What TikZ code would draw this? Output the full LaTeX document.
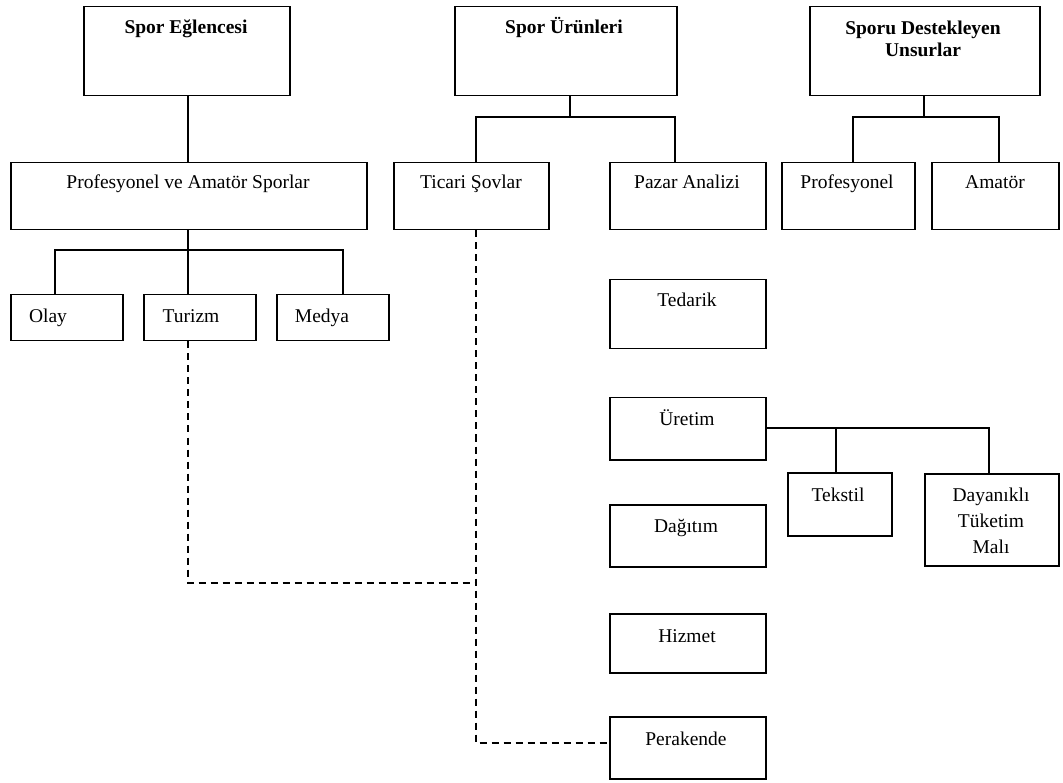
\documentclass[tikz,border=0pt]{standalone}
\usepackage{fontspec}
\setmainfont{Liberation Serif}
\begin{document}
\begin{tikzpicture}[x=1pt,y=-1pt,
  box/.style={draw, line width=1.5pt, inner sep=0pt, anchor=north west},
  lbl/.style={anchor=base, inner sep=0pt, font=\fontsize{19.5}{22}\selectfont},
  blbl/.style={anchor=base, inner sep=0pt, font=\fontsize{19.5}{22}\selectfont\bfseries, align=center},
  conn/.style={line width=1.5pt},
  dconn/.style={line width=1.5pt, dash pattern=on 7pt off 5pt}]
\useasboundingbox (0,0) rectangle (1063,783);
% boxes
\node[box, minimum width=206pt, minimum height=89pt] (se) at (83,6) {};
\node[box, minimum width=222pt, minimum height=89pt] (su) at (454,6) {};
\node[box, minimum width=230pt, minimum height=89pt] (sd) at (809,6) {};
\node[box, minimum width=356pt, minimum height=67pt] (pas) at (10,162) {};
\node[box, minimum width=155pt, minimum height=67pt] (ts) at (393,162) {};
\node[box, minimum width=156pt, minimum height=67pt] (pa) at (609,162) {};
\node[box, minimum width=133pt, minimum height=67pt] (pr) at (781,162) {};
\node[box, minimum width=127pt, minimum height=67pt] (am) at (931,162) {};
\node[box, minimum width=112pt, minimum height=46pt] (ol) at (10,294) {};
\node[box, minimum width=112pt, minimum height=46pt] (tu) at (143,294) {};
\node[box, minimum width=112pt, minimum height=46pt] (me) at (276,294) {};
\node[box, minimum width=156pt, minimum height=69pt] (te) at (609,279) {};
\node[box, minimum width=156pt, minimum height=62pt] (ur) at (609,397) {};
\node[box, minimum width=104pt, minimum height=63pt] (tk) at (787,472) {};
\node[box, minimum width=134pt, minimum height=92pt] (dy) at (924,473) {};
\node[box, minimum width=156pt, minimum height=62pt] (da) at (609,504) {};
\node[box, minimum width=156pt, minimum height=59pt] (hi) at (609,613) {};
\node[box, minimum width=156pt, minimum height=62pt] (pe) at (609,716) {};
% labels
\node[blbl] (seT) at (186,34) {Spor Eğlencesi};
\node[blbl] (suT) at (564,34) {Spor Ürünleri};
\node[blbl] (sdT1) at (923,35) {Sporu Destekleyen};
\node[blbl] (sdT2) at (923,57) {Unsurlar};
\node[lbl] (pasT) at (188,189) {Profesyonel ve Amatör Sporlar};
\node[lbl] (tsT) at (471,189) {Ticari Şovlar};
\node[lbl] (paT) at (687,189) {Pazar Analizi};
\node[lbl] (prT) at (847,189) {Profesyonel};
\node[lbl] (amT) at (995,189) {Amatör};
\node[lbl] (olT) at (48,323) {Olay};
\node[lbl] (tuT) at (191,323) {Turizm};
\node[lbl] (meT) at (322,323) {Medya};
\node[lbl] (teT) at (687,307) {Tedarik};
\node[lbl] (urT) at (687,425) {Üretim};
\node[lbl] (tkT) at (838,501) {Tekstil};
\node[lbl] (dyT1) at (991,501) {Dayanıklı};
\node[lbl] (dyT2) at (991,527) {Tüketim};
\node[lbl] (dyT3) at (991,553) {Malı};
\node[lbl] (daT) at (686,532) {Dağıtım};
\node[lbl] (hiT) at (687,642) {Hizmet};
\node[lbl] (peT) at (686,745) {Perakende};
% junction coordinates
\coordinate (jSE) at (188,120);
\coordinate (jSU) at (570,117);
\coordinate (jL) at (476,117);
\coordinate (jR) at (675,117);
\coordinate (jSD) at (924,117);
\coordinate (jDL) at (853,117);
\coordinate (jDR) at (999,117);
\coordinate (jP) at (188,250);
\coordinate (jO) at (55,250);
\coordinate (jM) at (343,250);
\coordinate (jU1) at (836,428);
\coordinate (jU2) at (989,428);
\coordinate (jT) at (188,583);
\coordinate (jX) at (476,583);
\coordinate (jY) at (476,743);
% connectors
\draw[conn] (se.south -| jSE) -- (pas.north -| jSE);
\draw[conn] (su.south -| jSU) -- (jSU);
\draw[conn] (ts.north -| jL) -- (jL) -- (jR) -- (pa.north -| jR);
\draw[conn] (sd.south -| jSD) -- (jSD);
\draw[conn] (pr.north -| jDL) -- (jDL) -- (jDR) -- (am.north -| jDR);
\draw[conn] (pas.south -| jP) -- (jP);
\draw[conn] (ol.north -| jO) -- (jO) -- (jM) -- (me.north -| jM);
\draw[conn] (jP) -- (tu.north -| jP);
\draw[conn] (ur.east |- jU2) -- (jU2) -- (dy.north -| jU2);
\draw[conn] (jU1) -- (tk.north -| jU1);
\draw[dconn] (tu.south -| jT) -- (jT) -- (jX);
\draw[dconn] (ts.south -| jX) -- (jY) -- (pe.west |- jY);
\end{tikzpicture}
\end{document}
